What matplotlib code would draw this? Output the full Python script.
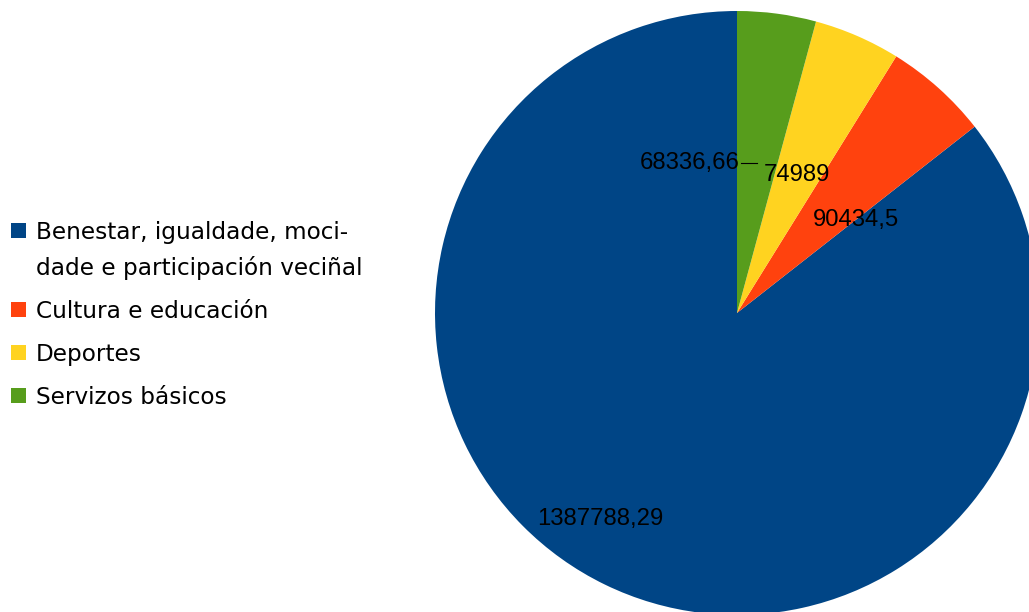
import numpy as np
import matplotlib
matplotlib.use("Agg")
from matplotlib import pyplot as plt
from matplotlib.patches import Rectangle

categories = ["Benestar, igualdade, moci-\ndade e participación veciñal",
              "Cultura e educación", "Deportes", "Servizos básicos"]
values = [1387788.29, 90434.5, 74989, 68336.66]
value_labels = ["1387788,29", "90434,5", "74989", "68336,66"]
colors = ["#004586", "#ff420e", "#ffd320", "#579d1c"]

W, H = 1029, 612
fig = plt.figure(figsize=(W / 100, H / 100), dpi=100)
ax = fig.add_axes([0, 0, 1, 1])

cx, cy, R = 737, H - 313, 302
wedges, _ = ax.pie(values, colors=colors, startangle=90, counterclock=True,
                   center=(cx, cy), radius=R, frame=True,
                   wedgeprops=dict(linewidth=0))
ax.set_xlim(0, W)
ax.set_ylim(0, H)
ax.set_aspect("equal")
ax.axis("off")

# value labels, roughly where LibreOffice put them (angle shift, radius fraction)
lab_font = dict(family="Liberation Sans", size=17.2, color="black")
offsets = {0: (-7.6, 0.82), 1: (-9.9, 0.50), 2: (0.0, 0.50), 3: (0, 0.50)}
for i, w in enumerate(wedges):
    mid = (w.theta1 + w.theta2) / 2 + offsets[i][0]
    r = R * offsets[i][1]
    x = cx + r * np.cos(np.radians(mid))
    y = cy + r * np.sin(np.radians(mid))
    if i == 3:
        # green slice: label pushed left with a short leader line
        ax.plot([x - 16, x], [y, y], color="black", lw=0.8)
        ax.text(x - 17, y, value_labels[i], ha="right", va="center", **lab_font)
    else:
        ax.text(x, y, value_labels[i], ha="center", va="center", **lab_font)

# legend drawn by hand so the square sits on the first line
leg_font = dict(family="DejaVu Sans", size=16.7, color="black")
base = H - 239
for cat, col in zip(categories, colors):
    ax.add_patch(Rectangle((11, base + 1.5), 15, 15, facecolor=col, edgecolor="none"))
    for line in cat.split("\n"):
        ax.text(36, base, line, ha="left", va="baseline", **leg_font)
        base -= 36
    base -= 7

fig.savefig("out.png", dpi=100)
